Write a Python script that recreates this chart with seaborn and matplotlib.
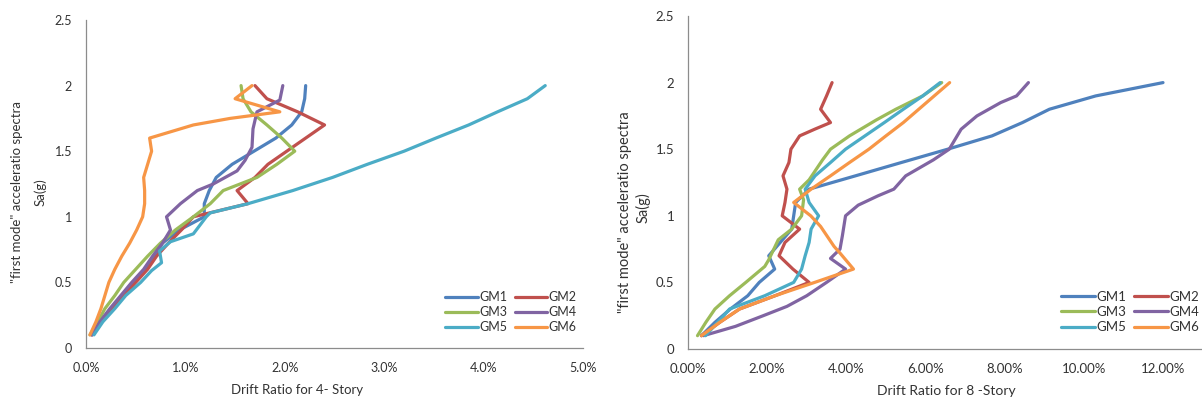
import numpy as np
import pandas as pd
import matplotlib
matplotlib.use("Agg")
import matplotlib.pyplot as plt
import seaborn as sns
from matplotlib.ticker import FuncFormatter, MultipleLocator

# ---------------- data (drift ratio in %, Sa in g) ----------------
series_names = ["GM1", "GM2", "GM3", "GM4", "GM5", "GM6"]
colors = ["#4F81BD", "#C0504D", "#9BBB59", "#8064A2", "#4BACC6", "#F79646"]

# 4-story
s4_gm1_x = [0.06, 0.15, 0.25, 0.37, 0.48, 0.60, 0.69, 0.77, 0.94, 1.19, 1.19, 1.24, 1.31, 1.47, 1.69, 1.91, 2.07, 2.17, 2.20, 2.21]
s4_gm1_y = [0.1, 0.2, 0.3, 0.4, 0.5, 0.6, 0.7, 0.8, 0.9, 1.0, 1.1, 1.2, 1.3, 1.4, 1.5, 1.6, 1.7, 1.8, 1.9, 2.0]
s4_gm2_x = [0.06, 0.15, 0.27, 0.38, 0.50, 0.62, 0.71, 0.83, 0.96, 1.08, 1.63, 1.52, 1.70, 1.83, 2.02, 2.21, 2.40, 2.13, 1.82, 1.70]
s4_gm2_y = [0.1, 0.2, 0.3, 0.4, 0.5, 0.6, 0.7, 0.8, 0.9, 1.0, 1.1, 1.2, 1.3, 1.4, 1.5, 1.6, 1.7, 1.8, 1.9, 2.0]
s4_gm3_x = [0.04, 0.12, 0.19, 0.29, 0.38, 0.50, 0.62, 0.75, 0.90, 1.08, 1.25, 1.38, 1.55, 1.72, 1.92, 2.10, 1.97, 1.82, 1.66, 1.58, 1.56]
s4_gm3_y = [0.1, 0.2, 0.3, 0.4, 0.5, 0.6, 0.7, 0.8, 0.9, 1.0, 1.1, 1.2, 1.25, 1.3, 1.4, 1.5, 1.6, 1.7, 1.8, 1.9, 2.0]
s4_gm4_x = [0.06, 0.14, 0.24, 0.35, 0.46, 0.58, 0.67, 0.77, 0.85, 0.81, 0.95, 1.12, 1.28, 1.52, 1.60, 1.67, 1.68, 1.72, 1.95, 1.98]
s4_gm4_y = [0.1, 0.2, 0.3, 0.4, 0.5, 0.6, 0.7, 0.8, 0.9, 1.0, 1.1, 1.2, 1.25, 1.35, 1.43, 1.53, 1.67, 1.80, 1.89, 2.0]
s4_gm5_x = [0.08, 0.17, 0.29, 0.40, 0.55, 0.66, 0.76, 0.74, 0.85, 1.08, 1.16, 1.21, 1.25, 1.63, 2.08, 2.48, 2.83, 3.20, 3.52, 3.85, 4.14, 4.44, 4.62]
s4_gm5_y = [0.1, 0.2, 0.3, 0.4, 0.5, 0.59, 0.65, 0.74, 0.81, 0.87, 0.95, 1.0, 1.03, 1.1, 1.2, 1.3, 1.4, 1.5, 1.6, 1.7, 1.8, 1.9, 2.0]
s4_gm6_x = [0.04, 0.10, 0.15, 0.19, 0.23, 0.29, 0.36, 0.44, 0.51, 0.57, 0.59, 0.59, 0.58, 0.62, 0.66, 0.64, 1.08, 1.45, 1.95, 1.50, 1.67]
s4_gm6_y = [0.1, 0.2, 0.3, 0.4, 0.5, 0.6, 0.7, 0.8, 0.9, 1.0, 1.1, 1.2, 1.3, 1.4, 1.5, 1.6, 1.70, 1.75, 1.80, 1.90, 2.0]

# 8-story
s8_gm1_x = [0.34, 0.68, 1.07, 1.51, 1.80, 2.19, 2.04, 2.33, 2.62, 2.67, 2.72, 3.06, 4.23, 5.39, 6.56, 7.68, 8.45, 9.13, 10.30, 12.00]
s8_gm1_y = [0.1, 0.2, 0.3, 0.4, 0.5, 0.6, 0.7, 0.8, 0.9, 1.0, 1.1, 1.2, 1.3, 1.4, 1.5, 1.6, 1.7, 1.8, 1.9, 2.0]
s8_gm2_x = [0.34, 0.80, 1.30, 2.20, 3.06, 2.65, 2.30, 2.45, 2.82, 2.38, 2.45, 2.50, 2.40, 2.55, 2.60, 2.82, 3.20, 3.60, 3.35, 3.50, 3.64]
s8_gm2_y = [0.1, 0.2, 0.3, 0.4, 0.5, 0.6, 0.7, 0.8, 0.9, 1.0, 1.1, 1.2, 1.3, 1.4, 1.5, 1.6, 1.65, 1.7, 1.8, 1.9, 2.0]
s8_gm3_x = [0.24, 0.45, 0.68, 1.05, 1.46, 1.94, 2.04, 2.28, 2.62, 2.87, 2.92, 2.82, 3.06, 3.40, 3.60, 4.08, 4.76, 5.25, 5.93, 6.41]
s8_gm3_y = [0.1, 0.2, 0.3, 0.4, 0.5, 0.62, 0.67, 0.82, 0.9, 1.0, 1.12, 1.2, 1.27, 1.42, 1.5, 1.6, 1.72, 1.8, 1.9, 2.0]
s8_gm4_x = [0.39, 1.20, 1.90, 2.50, 3.00, 3.50, 3.98, 3.60, 3.84, 3.90, 3.98, 4.30, 4.80, 5.20, 5.50, 6.20, 6.60, 6.90, 7.30, 7.90, 8.30, 8.60]
s8_gm4_y = [0.1, 0.17, 0.25, 0.32, 0.4, 0.5, 0.6, 0.68, 0.75, 0.85, 1.0, 1.08, 1.15, 1.2, 1.3, 1.42, 1.5, 1.65, 1.75, 1.85, 1.9, 2.0]
s8_gm5_x = [0.44, 0.75, 1.05, 1.94, 2.67, 2.87, 2.96, 3.06, 3.11, 3.30, 3.06, 2.96, 3.21, 3.60, 3.98, 4.47, 4.96, 5.44, 5.93, 6.37]
s8_gm5_y = [0.1, 0.2, 0.3, 0.4, 0.5, 0.6, 0.7, 0.8, 0.9, 1.0, 1.1, 1.2, 1.3, 1.4, 1.5, 1.6, 1.7, 1.8, 1.9, 2.0]
s8_gm6_x = [0.34, 0.80, 1.30, 2.20, 3.20, 4.18, 3.84, 3.69, 3.35, 3.10, 2.67, 3.11, 3.60, 4.08, 4.57, 5.00, 5.44, 5.83, 6.22, 6.61]
s8_gm6_y = [0.1, 0.2, 0.3, 0.4, 0.5, 0.6, 0.72, 0.77, 0.92, 1.0, 1.1, 1.2, 1.3, 1.4, 1.5, 1.6, 1.7, 1.8, 1.9, 2.0]

x_ticks_4 = [0, 1, 2, 3, 4, 5]
x_ticks_8 = [0, 2, 4, 6, 8, 10, 12]
y_ticks = [0, 0.5, 1, 1.5, 2, 2.5]
ylabel_line1 = '"first mode" acceleratio spectra'
ylabel_line2 = "Sa(g)"
xlabel_4 = "Drift Ratio for 4- Story"
xlabel_8 = "Drift Ratio for 8 -Story"

# --------------- build long tables ----------------
def build(xs, ys):
    frames = []
    for name, x, y in zip(series_names, xs, ys):
        frames.append(pd.DataFrame({"drift": x, "sa": y, "GM": name, "order": range(len(x))}))
    return pd.concat(frames, ignore_index=True)

df4 = build([s4_gm1_x, s4_gm2_x, s4_gm3_x, s4_gm4_x, s4_gm5_x, s4_gm6_x],
            [s4_gm1_y, s4_gm2_y, s4_gm3_y, s4_gm4_y, s4_gm5_y, s4_gm6_y])
df8 = build([s8_gm1_x, s8_gm2_x, s8_gm3_x, s8_gm4_x, s8_gm5_x, s8_gm6_x],
            [s8_gm1_y, s8_gm2_y, s8_gm3_y, s8_gm4_y, s8_gm5_y, s8_gm6_y])

sns.set_theme(style="white")
plt.rcParams["font.family"] = ["Lato", "DejaVu Sans"]
txt = "#333333"
axc = "#8C8C8C"

W, H = 1202, 403
fig = plt.figure(figsize=(W / 100, H / 100), dpi=100)

ax1 = fig.add_axes([86 / W, (H - 348) / H, (583 - 86) / W, (348 - 20) / H])
ax2 = fig.add_axes([688 / W, (H - 349) / H, (W - 688) / W, (349 - 16) / H])

for ax, df in ((ax1, df4), (ax2, df8)):
    sns.lineplot(data=df, x="drift", y="sa", hue="GM", palette=colors, sort=False,
                 estimator=None, units=None, linewidth=2.3, ax=ax)

ax1.set_xlim(0, 5)
ax2.set_xlim(0, 12 * (W - 688) / (1163 - 688))
for ax in (ax1, ax2):
    ax.set_ylim(0, 2.5)
    ax.set_yticks(y_ticks)
    ax.yaxis.set_major_formatter(FuncFormatter(lambda v, p: f"{v:g}"))
    for s in ("top", "right"):
        ax.spines[s].set_visible(False)
    for s in ("left", "bottom"):
        ax.spines[s].set_color(axc)
        ax.spines[s].set_linewidth(0.9)
    ax.tick_params(direction="out", length=4, width=0.9, color=axc, labelcolor=txt, pad=6)
    ax.set_xlabel("")
    ax.set_ylabel("")
    ax.get_legend().remove()

ax1.set_xticks(x_ticks_4)
ax1.xaxis.set_major_formatter(FuncFormatter(lambda v, p: f"{v:.1f}%"))
ax2.set_xticks(x_ticks_8)
ax2.xaxis.set_major_formatter(FuncFormatter(lambda v, p: f"{v:.2f}%"))
ax1.tick_params(labelsize=9)
ax2.tick_params(labelsize=9.5)

# axis titles
fig.text(297 / W, 1 - 390 / H, xlabel_4, ha="center", va="center", fontsize=9.5, color=txt)
fig.text(946 / W, 1 - 391 / H, xlabel_8, ha="center", va="center", fontsize=10, color=txt)
fig.text(17 / W, 1 - 192 / H, ylabel_line1, rotation=90, ha="center", va="center", fontsize=9.5, color=txt)
fig.text(40 / W, 1 - 192 / H, ylabel_line2, rotation=90, ha="center", va="center", fontsize=9.5, color=txt)
fig.text(625 / W, 1 - 212 / H, ylabel_line1, rotation=90, ha="center", va="center", fontsize=10.5, color=txt)
fig.text(643 / W, 1 - 208 / H, ylabel_line2, rotation=90, ha="center", va="center", fontsize=10.5, color=txt)

# legends (row-major order: GM1 GM2 / GM3 GM4 / GM5 GM6)
order = [0, 2, 4, 1, 3, 5]
for ax, cx, fs in ((ax1, 511, 9), (ax2, 1130, 9.5)):
    h, l = ax.get_legend_handles_labels()
    fig.legend([h[i] for i in order], [l[i] for i in order], ncol=2, loc="center",
               bbox_to_anchor=(cx / W, 1 - 312 / H), frameon=False, fontsize=fs,
               handlelength=2.6, handletextpad=0.1, columnspacing=0.6, labelspacing=0.25,
               labelcolor=txt)

fig.savefig("out.png", dpi=100)
